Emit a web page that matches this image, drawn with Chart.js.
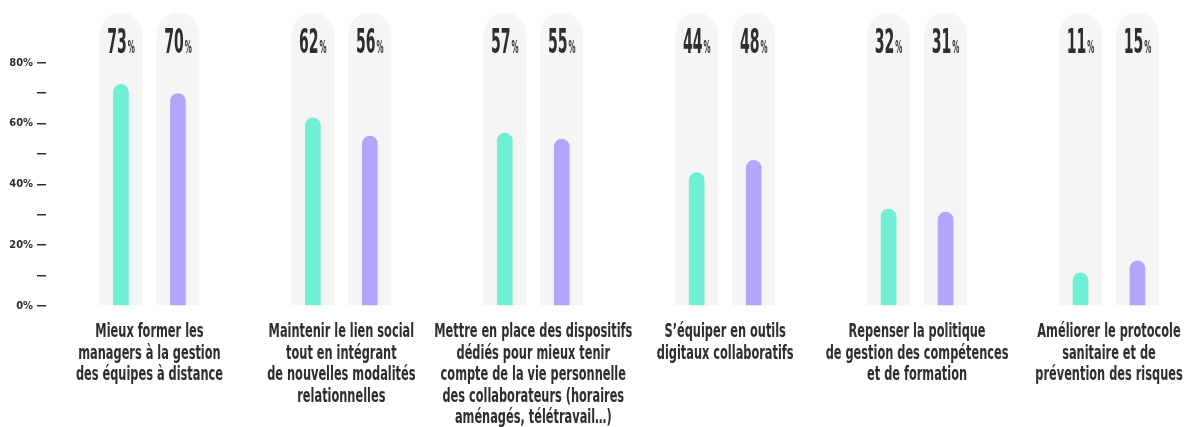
<!DOCTYPE html>
<html>
<head>
<meta charset="utf-8">
<script src="https://cdn.jsdelivr.net/npm/chart.js@4.4.0/dist/chart.umd.min.js"></script>
<style>
  html, body { margin: 0; padding: 0; background: #fff; overflow: hidden; }
  #wrap { width: 1192px; height: 427px; }
</style>
</head>
<body>
<div id="wrap"><canvas id="myChart"></canvas></div>
<script>
const categories = [
  ['Mieux former les', 'managers à la gestion', 'des équipes à distance'],
  ['Maintenir le lien social', 'tout en intégrant', 'de nouvelles modalités', 'relationnelles'],
  ['Mettre en place des dispositifs', 'dédiés pour mieux tenir', 'compte de la vie personnelle', 'des collaborateurs (horaires', 'aménagés, télétravail…)'],
  ['S’équiper en outils', 'digitaux collaboratifs'],
  ['Repenser la politique', 'de gestion des compétences', 'et de formation'],
  ['Améliorer le protocole', 'sanitaire et de', 'prévention des risques']
];
const seriesA = [73, 62, 57, 44, 32, 11];
const seriesB = [70, 56, 55, 48, 31, 15];
const trackValue = 96.5;
const yTicks = [0, 10, 20, 30, 40, 50, 60, 70, 80];

const FONT = '"Liberation Sans Narrow", "DejaVu Sans Condensed", sans-serif';
const TEXT = '#2e2e2e';

// big "73%" labels on top of each grey track, squeezed to look condensed
const valueLabels = {
  id: 'valueLabels',
  afterDatasetsDraw(chart) {
    const ctx = chart.ctx;
    const sx = 0.46;
    [[0, seriesA], [1, seriesB]].forEach(([di, vals]) => {
      chart.getDatasetMeta(di).data.forEach((bar, i) => {
        const num = String(vals[i]);
        ctx.save();
        ctx.fillStyle = TEXT;
        ctx.textBaseline = 'alphabetic';
        ctx.font = 'bold 34px ' + FONT;
        const w1 = ctx.measureText(num).width;
        ctx.font = 'bold 17px ' + FONT;
        const w2 = ctx.measureText('%').width;
        const total = (w1 + 2 + w2) * sx;
        ctx.translate(bar.x - total / 2, bar.y + 40);
        ctx.scale(sx, 1);
        ctx.font = 'bold 34px ' + FONT;
        ctx.fillText(num, 0, 0);
        ctx.font = 'bold 17px ' + FONT;
        ctx.fillText('%', w1 + 2, 0);
        ctx.restore();
      });
    });
  }
};

// multi-line category labels under the x axis, same condensed look
const categoryLabels = {
  id: 'categoryLabels',
  afterDraw(chart) {
    const ctx = chart.ctx;
    const xs = chart.scales.x;
    const sx = 0.665;
    ctx.save();
    ctx.fillStyle = TEXT;
    ctx.font = 'bold 19px ' + FONT;
    ctx.textAlign = 'center';
    ctx.textBaseline = 'alphabetic';
    categories.forEach((lines, i) => {
      const cx = xs.getPixelForValue(i);
      lines.forEach((line, k) => {
        ctx.save();
        ctx.translate(cx, xs.top + 31 + k * 21.5);
        ctx.scale(sx, 1);
        ctx.fillText(line, 0, 0);
        ctx.restore();
      });
    });
    ctx.restore();
  }
};

const catPct = 0.594;
const ctx = document.getElementById('myChart').getContext('2d');
new Chart(ctx, {
  type: 'bar',
  data: {
    datasets: [
      { label: 'trackA', data: seriesA.map((_, i) => ({ x: i, y: trackValue })), backgroundColor: '#f5f5f5',
        stack: 'a', order: 2, categoryPercentage: catPct, barPercentage: 0.754, borderRadius: 22 },
      { label: 'trackB', data: seriesB.map((_, i) => ({ x: i, y: trackValue })), backgroundColor: '#f5f5f5',
        stack: 'b', order: 2, categoryPercentage: catPct, barPercentage: 0.754, borderRadius: 22 },
      { label: 'A', data: seriesA.map((v, i) => ({ x: i, y: v })), backgroundColor: '#70efd6',
        stack: 'a', order: 1, categoryPercentage: catPct, barPercentage: 0.275, borderRadius: 8 },
      { label: 'B', data: seriesB.map((v, i) => ({ x: i, y: v })), backgroundColor: '#b1a6fb',
        stack: 'b', order: 1, categoryPercentage: catPct, barPercentage: 0.275, borderRadius: 8 }
    ]
  },
  options: {
    responsive: true,
    maintainAspectRatio: false,
    animation: false,
    layout: { padding: { top: 2, left: 0, right: 0, bottom: 0 } },
    plugins: { legend: { display: false }, tooltip: { enabled: false } },
    scales: {
      x: {
        type: 'linear',
        min: -0.539,
        max: 5.4325,
        offset: false,
        grid: { display: false, drawTicks: false, offset: false },
        border: { display: false },
        afterBuildTicks: (s) => { s.ticks = categories.map((_, i) => ({ value: i })); },
        afterFit: (s) => { s.height = 121; s.paddingLeft = 0; s.paddingRight = 0; },
        ticks: { display: false }
      },
      y: {
        min: 0,
        max: 100,
        stacked: false,
        grid: { drawOnChartArea: false, drawTicks: true, tickLength: 9, color: TEXT, lineWidth: 1.5 },
        border: { display: false },
        afterBuildTicks: (s) => { s.ticks = yTicks.map(v => ({ value: v })); },
        afterFit: (s) => { s.width = 46; s.paddingTop = 0; s.paddingBottom = 0; },
        ticks: {
          padding: 4, color: TEXT,
          font: { family: FONT, size: 11, weight: 'bold' },
          callback: (v) => (v % 20 === 0 ? v + '%' : '')
        }
      }
    }
  },
  plugins: [valueLabels, categoryLabels]
});
</script>
</body>
</html>
